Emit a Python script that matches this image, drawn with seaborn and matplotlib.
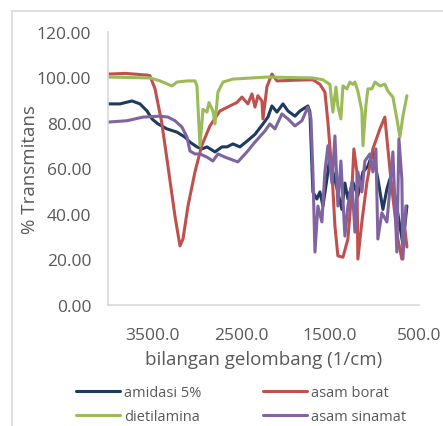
import numpy as np
import pandas as pd
import matplotlib
matplotlib.use('Agg')
import matplotlib.pyplot as plt
from matplotlib.lines import Line2D
import seaborn as sns

sns.set_style('white')
plt.rcParams['font.family'] = ['Open Sans', 'DejaVu Sans']

# bilangan gelombang (1/cm) dan % transmitans tiap sampel
amidasi_x = [4000, 3865, 3730, 3640, 3561, 3505, 3438, 3336, 3224, 3134, 3078, 2999,
             2943, 2886, 2796, 2718, 2661, 2594, 2515, 2436, 2346, 2256, 2200, 2155,
             2099, 2031, 1975, 1896, 1840, 1750, 1728, 1694, 1649, 1615, 1581, 1536,
             1503, 1469, 1413, 1368, 1334, 1300, 1244, 1188, 1131, 1075, 1019, 963,
             906, 861, 828, 771, 715, 681, 636]
amidasi_y = [88.4, 88.4, 89.7, 88.4, 85.3, 81.8, 79.6, 77.4, 76.0, 73.8, 71.6, 69.5,
             68.6, 69.5, 67.3, 69.5, 69.5, 70.8, 69.5, 72.0, 75.0, 79.6, 82.6, 87.5,
             84.8, 88.4, 85.3, 83.0, 85.3, 87.5, 85.0, 49.7, 46.6, 49.7, 43.5, 55.4,
             65.5, 58.5, 49.7, 42.0, 53.6, 46.6, 54.0, 48.0, 58.5, 61.0, 67.3, 55.4,
             42.0, 51.0, 55.4, 48.0, 34.7, 26.5, 43.5]

borat_x = [4000, 3800, 3640, 3550, 3528, 3471, 3396, 3325, 3246, 3190, 3156, 3100,
           3021, 2946, 2853, 2740, 2628, 2549, 2493, 2425, 2380, 2346, 2313, 2268,
           2256, 2211, 2155, 2099, 1900, 1694, 1615, 1559, 1525, 1480, 1446, 1413,
           1356, 1300, 1255, 1233, 1199, 1188, 1143, 1086, 1019, 940, 884, 861,
           805, 738, 693, 659, 636]
borat_y = [101.5, 101.8, 101.3, 101.0, 100.8, 95.0, 80.4, 61.0, 39.0, 26.0, 29.0, 43.5,
           58.5, 70.0, 78.7, 85.3, 87.5, 89.0, 91.4, 88.4, 92.8, 87.0, 92.0, 89.7,
           81.8, 96.0, 101.5, 98.5, 98.8, 99.0, 97.0, 93.6, 80.4, 58.5, 34.7, 21.6,
           21.0, 29.0, 51.0, 68.6, 58.5, 20.2, 36.5, 54.0, 68.6, 77.4, 82.6, 73.0,
           51.0, 29.0, 20.2, 33.4, 25.5]

dietil_x = [4000, 3528, 3415, 3280, 3224, 3111, 3021, 2999, 2965, 2931, 2886, 2864,
            2819, 2796, 2763, 2706, 2594, 2211, 1694, 1581, 1503, 1469, 1435, 1413,
            1379, 1356, 1311, 1278, 1244, 1221, 1188, 1143, 1131, 1098, 1075, 1030,
            996, 940, 884, 850, 794, 749, 715, 681, 636]
dietil_y = [100.2, 99.8, 98.5, 96.3, 98.0, 98.5, 98.5, 96.3, 70.0, 86.0, 84.8, 89.0,
            85.3, 79.6, 93.6, 98.0, 99.3, 100.2, 99.8, 99.0, 97.0, 84.8, 95.8, 87.5,
            81.8, 96.3, 95.0, 98.0, 97.0, 98.0, 94.0, 85.3, 70.0, 87.5, 95.0, 95.0,
            98.0, 96.3, 97.0, 94.0, 91.4, 81.8, 73.8, 83.0, 92.0]

sinamat_x = [4000, 3786, 3606, 3415, 3325, 3246, 3168, 3111, 3078, 3021, 2965, 2886,
             2819, 2763, 2684, 2628, 2538, 2436, 2346, 2234, 2178, 2121, 2043, 1975,
             1896, 1818, 1750, 1716, 1694, 1671, 1638, 1593, 1559, 1525, 1480, 1446,
             1413, 1379, 1334, 1300, 1255, 1221, 1188, 1143, 1109, 1053, 1019, 985,
             963, 918, 861, 828, 794, 749, 726, 693, 681, 648]
sinamat_y = [80.4, 81.0, 82.6, 83.0, 82.6, 81.0, 78.2, 73.8, 67.7, 66.4, 66.4, 65.0,
             63.3, 66.4, 65.0, 64.2, 62.9, 67.3, 71.6, 76.5, 79.6, 77.4, 84.0, 81.8,
             78.7, 81.0, 87.0, 82.0, 58.5, 23.3, 43.5, 36.5, 58.5, 70.0, 53.6, 74.3,
             43.5, 63.3, 30.3, 43.5, 54.0, 32.0, 58.5, 49.7, 63.3, 66.4, 58.5, 68.6,
             29.0, 40.5, 36.5, 51.0, 67.3, 23.3, 73.0, 55.4, 20.2, 43.5]

labels = ['amidasi 5%', 'asam borat', 'dietilamina', 'asam sinamat']
colors = ['#1f3a5f', '#c0504d', '#9bbb59', '#8064a2']

frames = []
for lab, xs, ys in zip(labels,
                       [amidasi_x, borat_x, dietil_x, sinamat_x],
                       [amidasi_y, borat_y, dietil_y, sinamat_y]):
    frames.append(pd.DataFrame({'w': xs, 't': ys, 'sampel': lab}))
df = pd.concat(frames, ignore_index=True)

fig = plt.figure(figsize=(4.43, 4.27), dpi=100)
ax = fig.add_axes([108/443, 1-306/427, 311/443, 273/427])

sns.lineplot(data=df, x='w', y='t', hue='sampel', palette=dict(zip(labels, colors)),
             sort=False, estimator=None, linewidth=2.2, legend=False, ax=ax)

ax.set_xlim(4000, 500)
ax.set_ylim(0, 120)
ax.set_xticks([3500, 2500, 1500, 500])
ax.set_xticklabels(['3500.0', '2500.0', '1500.0', '500.0'])
ax.set_yticks(range(0, 121, 20))
ax.set_yticklabels(['%.2f' % v for v in range(0, 121, 20)])
ax.tick_params(axis='both', length=0, labelsize=12.5, labelcolor='#595959')
ax.tick_params(axis='x', pad=16)
ax.tick_params(axis='y', pad=12)
for s in ['top', 'right']:
    ax.spines[s].set_visible(False)
for s in ['left', 'bottom']:
    ax.spines[s].set_color('#d9d9d9')
    ax.spines[s].set_linewidth(1.2)

ax.set_xlabel('bilangan gelombang (1/cm)', fontsize=13.5, color='#595959', va='center')
ax.xaxis.set_label_coords(0.5, (306-360)/273)
ax.set_ylabel('% Transmitans', fontsize=13.5, color='#595959', va='center')
ax.yaxis.set_label_coords((30-108)/311, 0.5)

# urutan legenda: baris 1 amidasi / borat, baris 2 dietilamina / sinamat
order = [0, 2, 1, 3]
handles = [Line2D([], [], color=colors[i], lw=2.2) for i in order]
fig.legend(handles, [labels[i] for i in order], ncol=2, frameon=False,
           loc='upper left', bbox_to_anchor=(76/443, 1-386/427),
           fontsize=10.5, handlelength=3.0, handletextpad=0.3,
           columnspacing=4.2, labelspacing=0.6, borderpad=0, borderaxespad=0,
           labelcolor='#595959')

# bingkai area grafik
fig.add_artist(Line2D([12/443, 12/443], [0, 1-12/427], color='#d9d9d9', lw=1.2,
                      transform=fig.transFigure))
fig.add_artist(Line2D([12/443, 1], [1-12/427, 1-12/427], color='#d9d9d9', lw=1.2,
                      transform=fig.transFigure))

fig.savefig('out.png', dpi=100)
